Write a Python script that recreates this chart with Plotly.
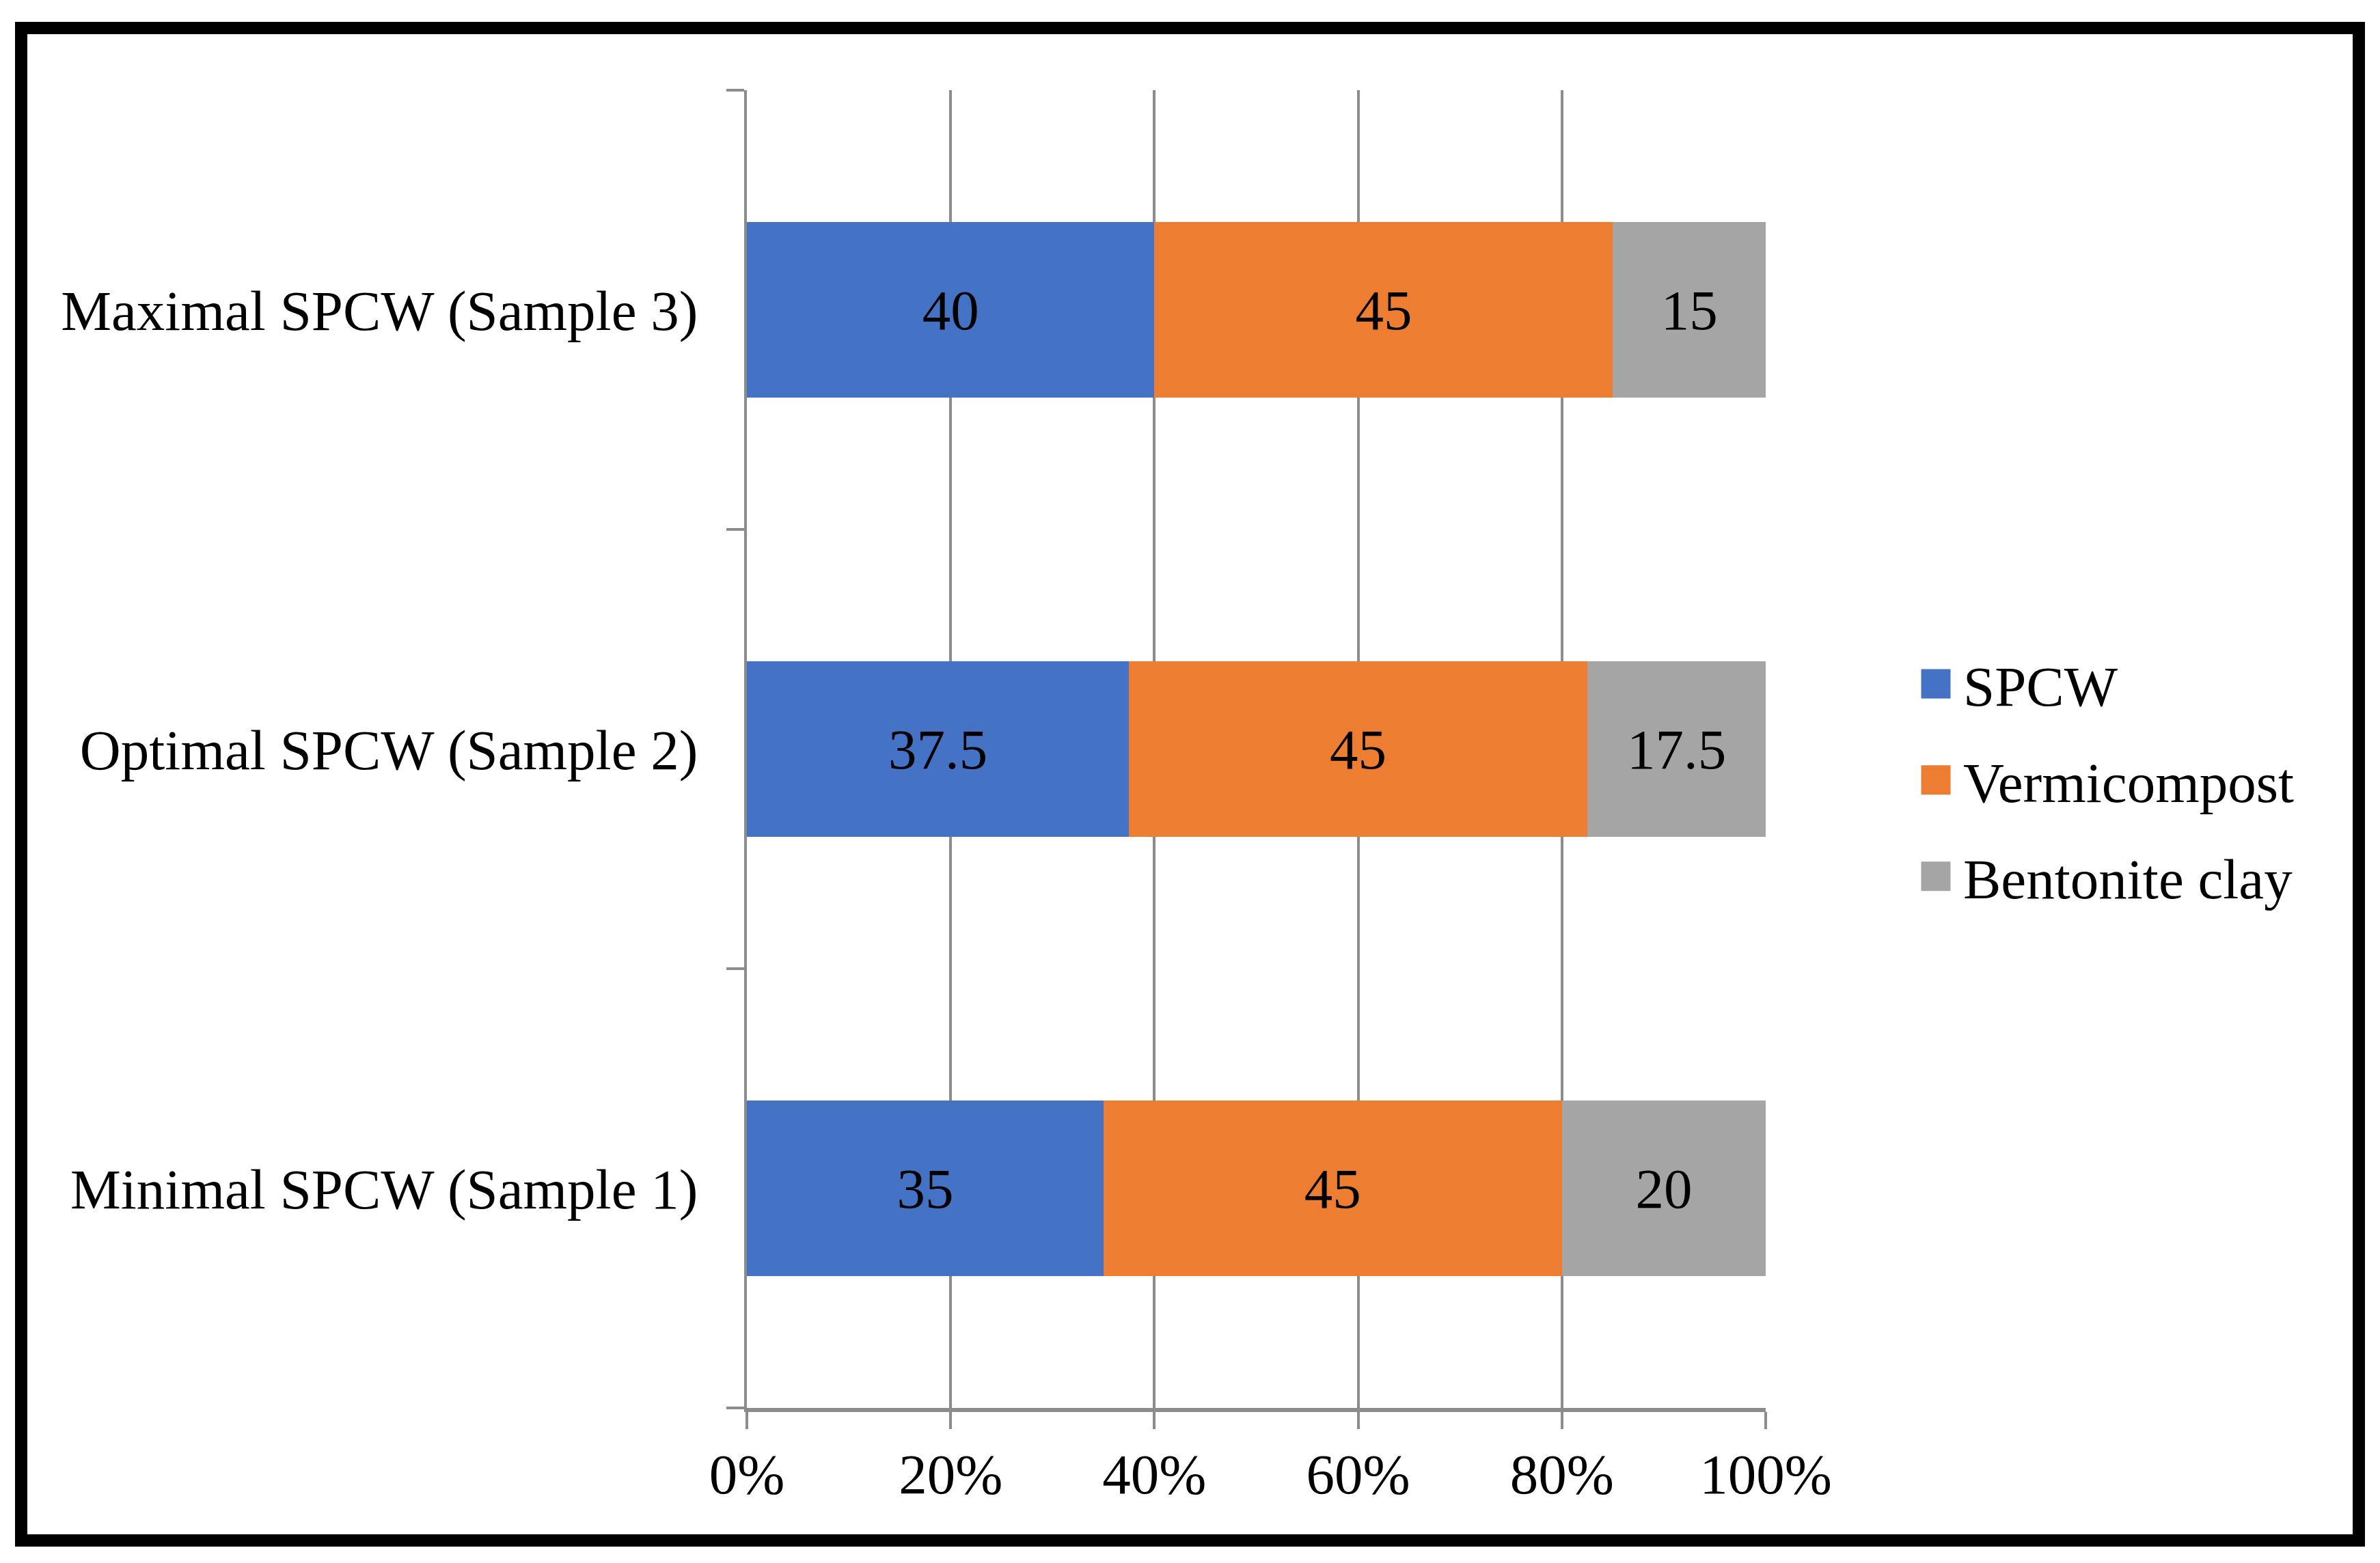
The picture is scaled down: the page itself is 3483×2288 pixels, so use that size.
import plotly.graph_objects as go

categories = ["Minimal SPCW (Sample 1)", "Optimal SPCW (Sample 2)", "Maximal SPCW (Sample 3)"]
series_names = ["SPCW", "Vermicompost", "Bentonite clay"]
spcw = [35, 37.5, 40]
vermicompost = [45, 45, 45]
bentonite = [20, 17.5, 15]
x_tick_vals = [0, 20, 40, 60, 80, 100]
x_tick_text = ["0%", "20%", "40%", "60%", "80%", "100%"]

colors = ["#4472C4", "#ED7D31", "#A5A5A5"]
FONT = "Liberation Serif, Times New Roman, serif"
FS = 83
GRAY = "#8C8C8C"

W, H = 3483, 2288
L, R, T, B = 1093, 899, 132, 227
pw, ph = W - L - R, H - T - B

def px_to_paper_x(px):
    return (px - L) / pw

def px_to_paper_y(py):
    return (H - B - py) / ph

fig = go.Figure()
for name, vals, col in zip(series_names, [spcw, vermicompost, bentonite], colors):
    fig.add_trace(go.Bar(
        y=categories, x=vals, name=name, orientation="h",
        marker=dict(color=col, line=dict(width=0)),
        text=[str(v) for v in vals], texttemplate="%{text}", textposition="inside",
        insidetextanchor="middle", textangle=0, constraintext="none",
        textfont=dict(family=FONT, size=FS, color="black"),
        legendgroup=name, hoverinfo="skip",
    ))

fig.update_layout(
    width=W, height=H,
    margin=dict(l=L, r=R, t=T, b=B, pad=0),
    barmode="stack", bargap=0.6,
    paper_bgcolor="white", plot_bgcolor="white",
    font=dict(family=FONT, size=FS, color="black"),
    showlegend=True,
    legend=dict(
        x=px_to_paper_x(2793), xanchor="left",
        y=px_to_paper_y(1142), yanchor="middle",
        traceorder="grouped", tracegroupgap=30,
        font=dict(family=FONT, size=FS, color="black"),
        bgcolor="rgba(0,0,0,0)", itemwidth=70,
    ),
    xaxis=dict(
        range=[0, 100], tickvals=x_tick_vals, ticktext=x_tick_text,
        showgrid=True, gridcolor=GRAY, gridwidth=4,
        ticks="outside", ticklen=25, tickwidth=4, tickcolor=GRAY,
        showline=True, linecolor=GRAY, linewidth=6,
        zeroline=False, fixedrange=True, ticklabelstandoff=-6,
        tickfont=dict(family=FONT, size=FS, color="black"),
    ),
    yaxis=dict(
        type="category", categoryorder="array", categoryarray=categories,
        tickson="boundaries", ticks="outside", ticklen=26, tickwidth=4, tickcolor=GRAY,
        showline=True, linecolor=GRAY, linewidth=4, showgrid=False,
        ticklabelstandoff=51,
        tickfont=dict(family=FONT, size=FS, color="black"),
        fixedrange=True,
    ),
    shapes=[dict(
        type="rect", xref="paper", yref="paper",
        x0=px_to_paper_x(31), x1=px_to_paper_x(3452),
        y0=px_to_paper_y(2255), y1=px_to_paper_y(41),
        line=dict(color="black", width=18), fillcolor="rgba(0,0,0,0)",
    )],
)

post = """
document.body.style.margin='0';
function fixLegend(){
  var ps = document.querySelectorAll('g.legendpoints path');
  for (var i = 0; i < ps.length; i++) {
    var p = ps[i];
    if (p.getAttribute('d') !== 'M21.5,21.5H-21.5V-21.5H21.5Z') {
      p.setAttribute('d', 'M21.5,21.5H-21.5V-21.5H21.5Z');
    }
  }
}
fixLegend();
setInterval(fixLegend, 50);
"""

fig.write_html("out.html", post_script=post, config={"displayModeBar": False})
